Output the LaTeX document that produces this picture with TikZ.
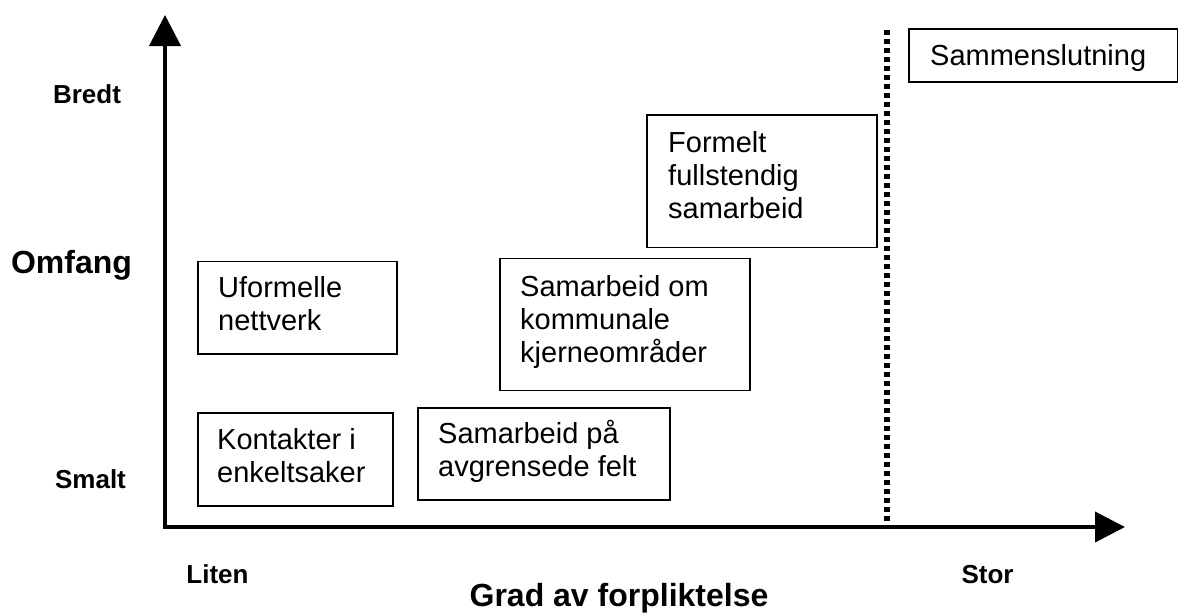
\documentclass[tikz,border=0pt]{standalone}
\usepackage{fontspec}
\setmainfont{Liberation Sans}
\usetikzlibrary{arrows.meta,calc}

\tikzset{
  box/.style={draw=black, line width=1.6pt, inner sep=0pt, anchor=north west},
  % base anchor of a multi-line node sits on the baseline of its last line
  boxtext/.style={inner sep=0pt, anchor=base west, align=left,
    font=\fontsize{29}{33}\selectfont},
  smalllabel/.style={inner sep=0pt, anchor=base,
    font=\fontsize{26}{30}\selectfont\bfseries},
  biglabel/.style={inner sep=0pt, anchor=base,
    font=\fontsize{32}{36}\selectfont\bfseries},
  axis/.style={line width=4pt, line join=miter,
    {Triangle[length=31pt,width=31pt]}-{Triangle[length=30pt,width=30pt]}},
  divider/.style={line width=5.5pt, dash pattern=on 5pt off 4pt}
}

\begin{document}
\begin{tikzpicture}[x=1pt,y=-1pt]
\useasboundingbox (0,0) rectangle (1178,614);

% axes
\coordinate (ytip) at (165,15);
\coordinate (origin) at (165,527);
\coordinate (xtip) at (1125,527);
\draw[axis] (ytip) -- (origin) -- (xtip);

% dotted divider
\coordinate (dtop) at (887,30);
\coordinate (dbot) at (887,522);
\draw[divider] (dtop) -- (dbot);

% boxes
\node[box, minimum width=199pt, minimum height=92.5pt] (uform) at (197,260.5) {};
\node[boxtext] (uformtxt) at ($(uform.north west)+(21,69.5)$) {Uformelle\\nettverk};

\node[box, minimum width=195pt, minimum height=93pt] (kont) at (197,412) {};
\node[boxtext] (konttxt) at ($(kont.north west)+(20,70.5)$) {Kontakter i\\enkeltsaker};

\node[box, minimum width=252pt, minimum height=92pt] (avgr) at (417,407) {};
\node[boxtext] (avgrtxt) at ($(avgr.north west)+(21,69.5)$) {Samarbeid på\\avgrensede felt};

\node[box, minimum width=250pt, minimum height=132pt] (kjerne) at (499,257.5) {};
\node[boxtext] (kjernetxt) at ($(kjerne.north west)+(21,105)$) {Samarbeid om\\kommunale\\kjerneområder};

\node[box, minimum width=230pt, minimum height=132.5pt] (formelt) at (646,114) {};
\node[boxtext] (formelttxt) at ($(formelt.north west)+(22,104.5)$) {Formelt\\fullstendig\\samarbeid};

\node[box, minimum width=269pt, minimum height=53pt] (samm) at (908,28) {};
\begin{scope}
  \clip (900,0) rectangle (1178,72);
  \node[boxtext] (sammtxt) at ($(samm.north west)+(22,37)$) {Sammenslutning};
\end{scope}

% axis labels
\node[smalllabel] (bredt) at (87,103) {Bredt};
\node[biglabel] (omfang) at (71.5,273) {Omfang};
\node[smalllabel] (smalt) at (90.5,488) {Smalt};
\node[smalllabel] (liten) at (217.5,583) {Liten};
\node[smalllabel] (stor) at (987.5,583) {Stor};
\node[biglabel] (grad) at (619,606) {Grad av forpliktelse};
\end{tikzpicture}
\end{document}
